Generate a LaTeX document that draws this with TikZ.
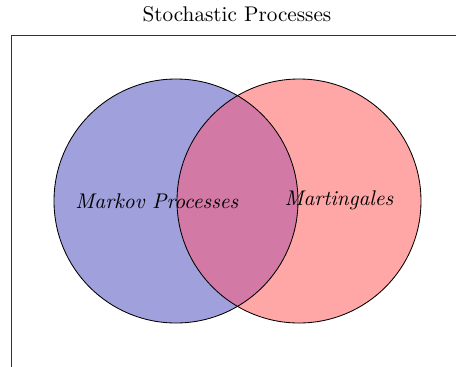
\documentclass[tikz,border=0pt]{standalone}
\usepackage{amsmath}
\usepackage{tikz}
\usepackage{xcolor}

\definecolor{markovfill}{RGB}{160,160,220}
\definecolor{martfill}{RGB}{255,166,166}
\definecolor{bothfill}{RGB}{210,122,165}

\begin{document}
\begin{tikzpicture}[x=0.4717pt,y=0.4717pt]
				\useasboundingbox (0,0) rectangle (456,366);
				
				\draw[black!80] (470,331)--(11,331)--(11,-10);
				\node (title) at (237,352){Stochastic Processes};
				
				\fill[markovfill] (176,165) circle (122);
				\fill[martfill] (299,165) circle (122);
				\begin{scope}
					\clip (176,165) circle (122);
					\fill[bothfill] (299,165) circle (122);
				\end{scope}
				\draw (176,165) circle (122);
				\draw (299,165) circle (122);
				
				\node (markov) at (157,165){\textit{Markov Processes}};
				\node (mart) at (339,166){\textit{Martingales}};
			\end{tikzpicture}
\end{document}
